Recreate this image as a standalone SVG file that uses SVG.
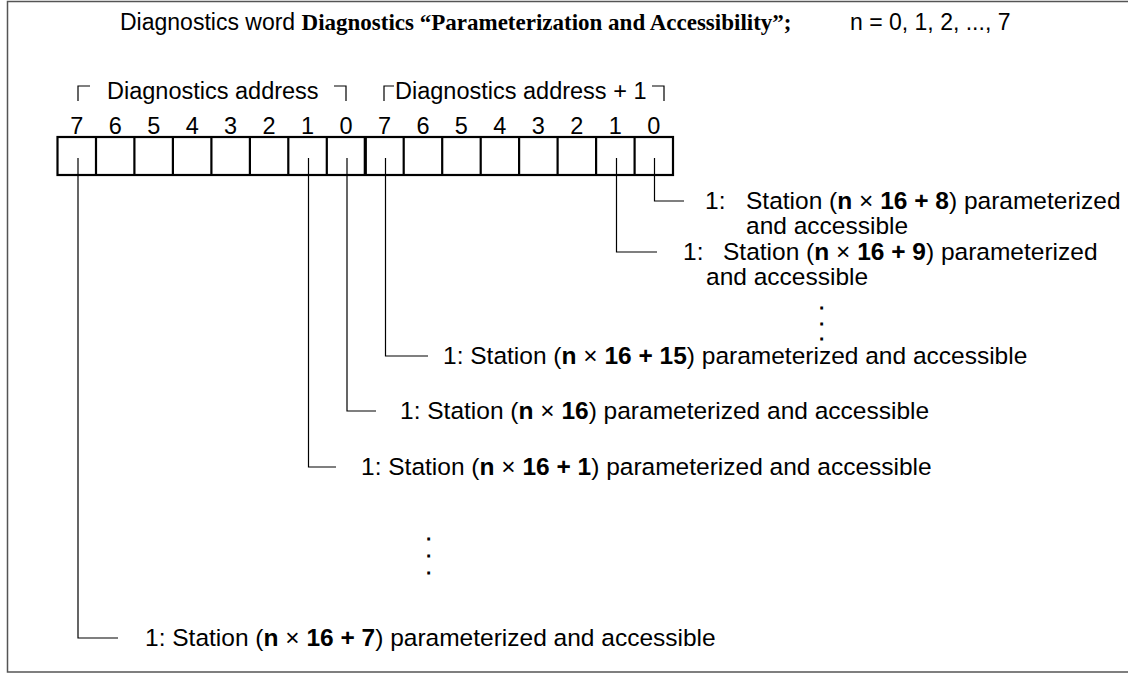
<svg xmlns="http://www.w3.org/2000/svg" width="1128" height="674" viewBox="0 0 1128 674">
<style>
text{font-family:"Liberation Sans",Arial,sans-serif;fill:#000}
.t{font-size:23px}
.tb{font-family:"Liberation Serif","Times New Roman",serif;font-weight:bold}
.hd{font-size:23.5px}
.dg{font-size:23.5px;text-anchor:middle}
.lb{font-size:24.5px}
.b{font-weight:bold}
.dot{font-size:12px;font-weight:bold;stroke:#000;stroke-width:1}
.ln{fill:none;stroke:#000;stroke-width:1.2}
.cell{fill:#fff;stroke:#000;stroke-width:2.2}
</style>
<rect x="7.5" y="1.5" width="1140" height="670.5" fill="#fff" stroke="#555" stroke-width="1.5"/>
<g id="title">
<text class="t" x="120" y="30">Diagnostics word <tspan class="tb">Diagnostics “Parameterization and Accessibility”;</tspan></text>
<text class="t" x="850" y="30">n = 0, 1, 2, ..., 7</text>
</g>
<g id="byte-labels">
<text class="hd" x="107" y="99">Diagnostics address</text>
<text class="hd" x="395" y="99">Diagnostics address + 1</text>
<polyline class="ln" points="78,101 78,86 90,86"/>
<polyline class="ln" points="334,86 346,86 346,101"/>
<polyline class="ln" points="384,101 384,86 394,86"/>
<polyline class="ln" points="652,86 664,86 664,101"/>
</g>
<g id="bit-numbers">
<text class="dg" x="76.7" y="134">7</text><text class="dg" x="115.2" y="134">6</text><text class="dg" x="153.7" y="134">5</text><text class="dg" x="192.2" y="134">4</text>
<text class="dg" x="230.6" y="134">3</text><text class="dg" x="269.1" y="134">2</text><text class="dg" x="307.6" y="134">1</text><text class="dg" x="346" y="134">0</text>
<text class="dg" x="384.5" y="134">7</text><text class="dg" x="423" y="134">6</text><text class="dg" x="461.4" y="134">5</text><text class="dg" x="499.9" y="134">4</text>
<text class="dg" x="538.4" y="134">3</text><text class="dg" x="576.8" y="134">2</text><text class="dg" x="615.3" y="134">1</text><text class="dg" x="653.8" y="134">0</text>
</g>
<g id="register">
<rect class="cell" x="57.5" y="137" width="615.5" height="38"/>
<path class="cell" d="M96 137V175M134.4 137V175M172.9 137V175M211.4 137V175M249.9 137V175M288.3 137V175M326.8 137V175M403.7 137V175M442.2 137V175M480.7 137V175M519.1 137V175M557.6 137V175M596.1 137V175M634.6 137V175"/>
<path d="M365.3 137V175" stroke="#000" stroke-width="3.2"/>
</g>
<g id="connectors">
<polyline class="ln" points="654.5,158 654.5,201 684,201"/>
<polyline class="ln" points="616.5,158 616.5,252 657,252"/>
<polyline class="ln" points="385.5,158 385.5,356 428,356"/>
<polyline class="ln" points="347,158 347,411 376,411"/>
<polyline class="ln" points="308.5,158 308.5,467 336,467"/>
<polyline class="ln" points="78,158 78,638 118,638"/>
</g>
<g id="label-8">
<text class="lb" x="705" y="209">1:</text>
<text class="lb" x="746" y="209">Station (<tspan class="b">n</tspan> × <tspan class="b">16 + 8</tspan>) parameterized</text>
<text class="lb" x="746" y="234">and accessible</text>
</g>
<g id="label-9">
<text class="lb" x="683" y="260">1:</text>
<text class="lb" x="723" y="260">Station (<tspan class="b">n</tspan> × <tspan class="b">16 + 9</tspan>) parameterized</text>
<text class="lb" x="706" y="285">and accessible</text>
</g>
<g id="dots-right">
<text class="dot" x="820" y="309">.<tspan x="820" dy="15.5">.</tspan><tspan x="820" dy="15.5">.</tspan></text>
</g>
<g id="label-15">
<text class="lb" x="443" y="364">1: Station (<tspan class="b">n</tspan> × <tspan class="b">16 + 15</tspan>) parameterized and accessible</text>
</g>
<g id="label-16">
<text class="lb" x="400" y="419">1: Station (<tspan class="b">n</tspan> × <tspan class="b">16</tspan>) parameterized and accessible</text>
</g>
<g id="label-1">
<text class="lb" x="361" y="475">1: Station (<tspan class="b">n</tspan> × <tspan class="b">16 + 1</tspan>) parameterized and accessible</text>
</g>
<g id="dots-left">
<text class="dot" x="427" y="540">.<tspan x="427" dy="17">.</tspan><tspan x="427" dy="17">.</tspan></text>
</g>
<g id="label-7">
<text class="lb" x="145" y="646">1: Station (<tspan class="b">n</tspan> × <tspan class="b">16 + 7</tspan>) parameterized and accessible</text>
</g>
</svg>
